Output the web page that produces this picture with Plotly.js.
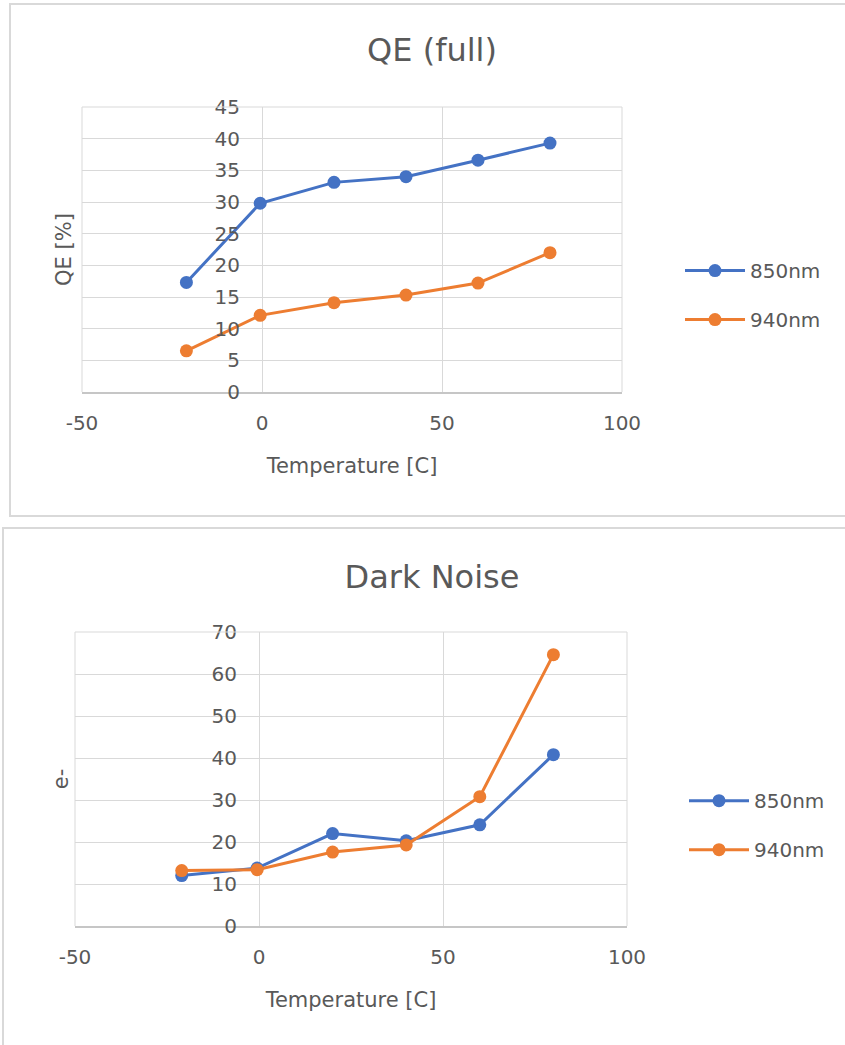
<!DOCTYPE html>
<html>
<head>
<meta charset="utf-8">
<script src="https://cdn.plot.ly/plotly-3.0.1.min.js"></script>
<style>
  html, body { margin: 0; padding: 0; background: #ffffff; overflow: hidden; }
  .box { position: absolute; border: 2px solid #d9d9d9; box-sizing: border-box; background: #fff; }
  #qe { left: 9px; top: 3px; width: 845px; height: 514px; }
  #dn { left: 2px; top: 527px; width: 852px; height: 530px; }
</style>
</head>
<body>
<div id="qe" class="box"></div>
<div id="dn" class="box"></div>
<script>
// ---- data ----
const temperature = [-21, -0.5, 20, 40, 60, 80];
const qe850 = [17.3, 29.8, 33.1, 34.0, 36.6, 39.3];
const qe940 = [6.5, 12.1, 14.1, 15.3, 17.2, 22.0];
const noise850 = [12.0, 13.8, 22.0, 20.3, 24.1, 40.8];
const noise940 = [13.2, 13.4, 17.6, 19.3, 30.8, 64.6];
const seriesNames = ['850nm', '940nm'];
const xTickVals = [-50, 0, 50, 100];
const xTickText = ['-50', '0', '50', '100'];
const xTitle = 'Temperature [C]';

const FONT = 'DejaVu Sans, sans-serif';
const TXT = '#595959';
const GRID = '#d9d9d9';
const COLORS = ['#4472C4', '#ED7D31'];

function makeTrace(y, i) {
  return {
    x: temperature, y: y, name: seriesNames[i], type: 'scatter', mode: 'lines+markers',
    line: {color: COLORS[i], width: 3},
    marker: {color: COLORS[i], size: 13},
    legendgroup: 'g' + i
  };
}

function makeLayout(opt) {
  const xr = [xTickVals[0], xTickVals[xTickVals.length - 1]];
  const yPos = (0 - xr[0]) / (xr[1] - xr[0]);
  return {
    width: opt.w, height: opt.h,
    margin: opt.m,
    paper_bgcolor: 'rgba(0,0,0,0)', plot_bgcolor: 'rgba(0,0,0,0)',
    font: {family: FONT, color: TXT, size: 20},
    title: {text: opt.title, font: {family: FONT, size: 32, color: TXT},
            x: opt.titleX, xref: 'paper', xanchor: 'center', y: opt.titleY, yref: 'container', yanchor: 'middle'},
    showlegend: true,
    legend: {x: opt.legX, xanchor: 'left', y: opt.legY, yanchor: 'middle', itemwidth: 60,
             font: {family: FONT, size: 20, color: TXT}, tracegroupgap: 20,
             traceorder: 'grouped', bgcolor: 'rgba(0,0,0,0)'},
    xaxis: {range: xr, tickvals: xTickVals, ticktext: xTickText, showgrid: true, gridcolor: GRID, gridwidth: 1,
            zeroline: false, showline: true, linecolor: '#c6c6c6', linewidth: 2,
            ticks: '', ticklabelstandoff: 12, tickfont: {family: FONT, size: 20, color: TXT},
            title: {text: xTitle, font: {family: FONT, size: 21, color: TXT}, standoff: 24}},
    yaxis: {range: opt.yr, dtick: opt.dy, anchor: 'free', position: yPos, side: 'left',
            showgrid: true, gridcolor: GRID, gridwidth: 1,
            zeroline: false, showline: false, ticks: '',
            ticklabelstandoff: 22, tickfont: {family: FONT, size: 20, color: TXT},
            title: {text: opt.yTitle, font: {family: FONT, size: 21, color: TXT}, standoff: 136}},
    shapes: [{type: 'line', xref: 'paper', yref: 'paper', x0: 1, x1: 1, y0: 0, y1: 1,
              line: {color: GRID, width: 1}},
             {type: 'line', xref: 'paper', yref: 'paper', x0: 0, x1: 0, y0: 0, y1: 1,
              line: {color: GRID, width: 1}},
             {type: 'line', xref: 'paper', yref: 'paper', x0: 0, x1: 1, y0: 1, y1: 1,
              line: {color: GRID, width: 1}}]
  };
}

const cfg = {staticPlot: true, displayModeBar: false};

// QE chart: plot area x 82..622, y 107..392 in page px; box at (9,3)
Plotly.newPlot('qe', [makeTrace(qe850, 0), makeTrace(qe940, 1)], makeLayout({
  w: 841, h: 510, m: {l: 71, r: 841 - 611, t: 102, b: 510 - 387, pad: 0},
  title: 'QE (full)', titleX: (432 - 82) / 540, titleY: 1 - (50 - 5) / 510,
  yr: [0, 45], dy: 5, yTitle: 'QE [%]', legX: (680 - 82) / 540, legY: 0.34
}), cfg);

// Dark noise chart: plot area x 75..627, y 632..926; box at (2,527)
Plotly.newPlot('dn', [makeTrace(noise850, 0), makeTrace(noise940, 1)], makeLayout({
  w: 848, h: 526, m: {l: 71, r: 848 - 623, t: 103, b: 526 - 397, pad: 0},
  title: 'Dark Noise', titleX: (432 - 75) / 552, titleY: 1 - (577 - 529) / 526,
  yr: [0, 70], dy: 10, yTitle: 'e-', legX: (684 - 75) / 552, legY: 0.343
}), cfg);
</script>
</body>
</html>
